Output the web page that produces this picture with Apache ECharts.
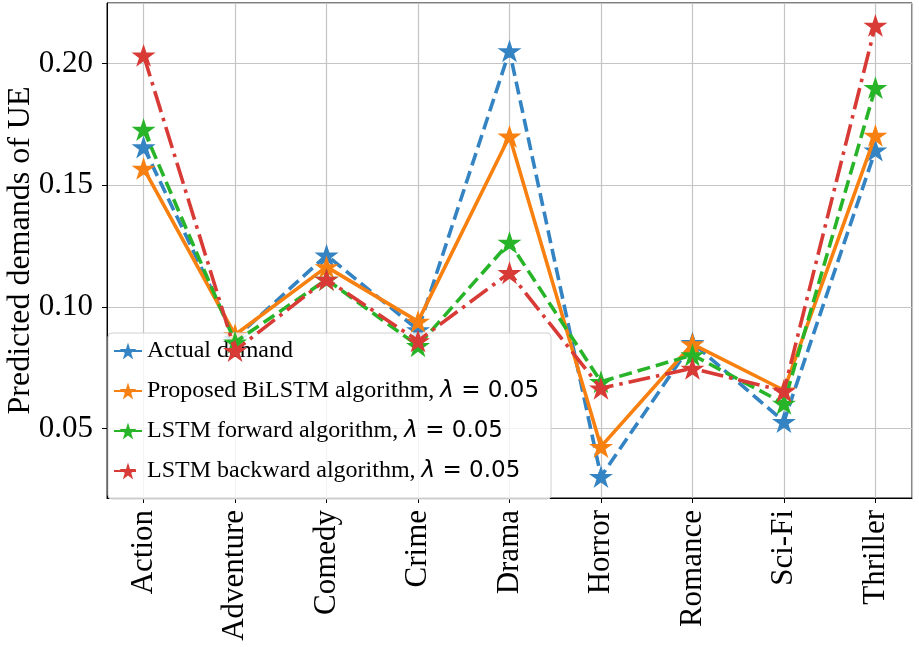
<!DOCTYPE html>
<html>
<head>
<meta charset="utf-8">
<script src="https://cdn.jsdelivr.net/npm/echarts@6/dist/echarts.min.js"></script>
<style>html,body{margin:0;padding:0;background:#fff}#c{width:919px;height:647px}</style>
</head>
<body>
<div id="c"></div>
<script>
const categories = ['Action','Adventure','Comedy','Crime','Drama','Horror','Romance','Sci-Fi','Thriller'];
const actualDemand = [0.1657, 0.0870, 0.1212, 0.0905, 0.2052, 0.0302, 0.0852, 0.0528, 0.1644];
const biLSTM      = [0.1569, 0.0885, 0.1164, 0.0940, 0.1701, 0.0425, 0.0847, 0.0657, 0.1705];
const lstmForward = [0.1729, 0.0855, 0.1112, 0.0840, 0.1265, 0.0692, 0.0802, 0.0603, 0.1901];
const lstmBackward= [0.2034, 0.0820, 0.1113, 0.0860, 0.1140, 0.0665, 0.0747, 0.0654, 0.2157];
const seriesNames = ['Actual demand','Proposed BiLSTM algorithm, λ = 0.05','LSTM forward algorithm, λ = 0.05','LSTM backward algorithm, λ = 0.05'];

// star marker shape
function starPath(){
  const pts = [];
  for (let i = 0; i < 10; i++) {
    const r = i % 2 === 0 ? 1 : 0.381966;
    const a = -Math.PI / 2 + i * Math.PI / 5;
    pts.push((r * Math.cos(a)).toFixed(4) + ' ' + (r * Math.sin(a)).toFixed(4));
  }
  return 'path://M' + pts.join(' L') + ' Z';
}
const STAR = starPath();

const colors = ['#3483c2', '#f88010', '#28b428', '#d83a36'];
const styles = [[13,6], 'solid', [13,6], [22,6,3.5,6]];
const values = [actualDemand, biLSTM, lstmForward, lstmBackward];

const chart = echarts.init(document.getElementById('c'), null, {renderer: 'canvas'});
const serif = 'Liberation Serif';

chart.setOption({
  animation: false,
  backgroundColor: '#fff',
  grid: {left: 107, right: 7, top: 3, bottom: 149, containLabel: false, outerBoundsMode: 'none',
         show: true, borderColor: '#000', borderWidth: 1, backgroundColor: 'transparent'},
  legend: {
    orient: 'vertical', left: 108, top: 333,
    padding: [6, 12, 16, 5],
    itemGap: 16, itemWidth: 28, itemHeight: 21, itemTextGap: 4,
    backgroundColor: 'rgba(255,255,255,0.8)', borderColor: '#d0d0d0', borderWidth: 1, borderRadius: 4,
    data: seriesNames,
    formatter: function(name){
      const k = name.indexOf('λ');
      if (k < 0) return '{s|' + name + '}';
      return '{s|' + name.slice(0, k) + '}{i|λ}{m|' + name.slice(k + 1) + '}';
    },
    textStyle: {
      color: '#000',
      rich: {
        s: {fontFamily: serif, fontSize: 24, color: '#000'},
        i: {fontFamily: 'DejaVu Sans', fontStyle: 'italic', fontSize: 23, color: '#000'},
        m: {fontFamily: 'DejaVu Sans', fontSize: 23, color: '#000'}
      }
    }
  },
  xAxis: {
    type: 'value', min: -0.4, max: 8.4, splitNumber: 9, minInterval: 1,
    axisLine: {show: true, onZero: false, lineStyle: {color: '#000', width: 1}},
    axisTick: {show: true, length: 5, lineStyle: {color: '#000'}},
    splitLine: {show: true, lineStyle: {color: '#c4c4c4', width: 1.2}},
    axisLabel: {
      showMinLabel: false, showMaxLabel: false,
      rotate: 90, margin: 12, color: '#000', fontFamily: serif, fontSize: 31,
      formatter: v => (Number.isInteger(v) && categories[v] !== undefined) ? categories[v] : ''
    }
  },
  yAxis: {
    type: 'value', min: 0.0214, max: 0.2249, splitNumber: 5,
    name: 'Predicted demands of UE', nameLocation: 'middle', nameGap: 70, nameMoveOverlap: false,
    nameTextStyle: {fontFamily: serif, fontSize: 32, color: '#000'},
    axisLine: {show: true, onZero: false, lineStyle: {color: '#000', width: 1}},
    axisTick: {show: true, length: 5, lineStyle: {color: '#000'}},
    splitLine: {show: true, lineStyle: {color: '#c4c4c4', width: 1.2}},
    axisLabel: {
      showMinLabel: false, showMaxLabel: false,
      margin: 14, color: '#000', fontFamily: serif, fontSize: 31,
      formatter: v => v.toFixed(2)
    }
  },
  series: values.map((arr, s) => ({
    name: seriesNames[s],
    type: 'line',
    data: arr.map((v, i) => [i, v]),
    symbol: STAR, symbolSize: 24, symbolKeepAspect: true,
    color: colors[s],
    itemStyle: {color: colors[s]},
    lineStyle: {color: colors[s], width: 3.6, type: styles[s]},
    z: 2 + s
  }))
});
</script>
</body>
</html>
